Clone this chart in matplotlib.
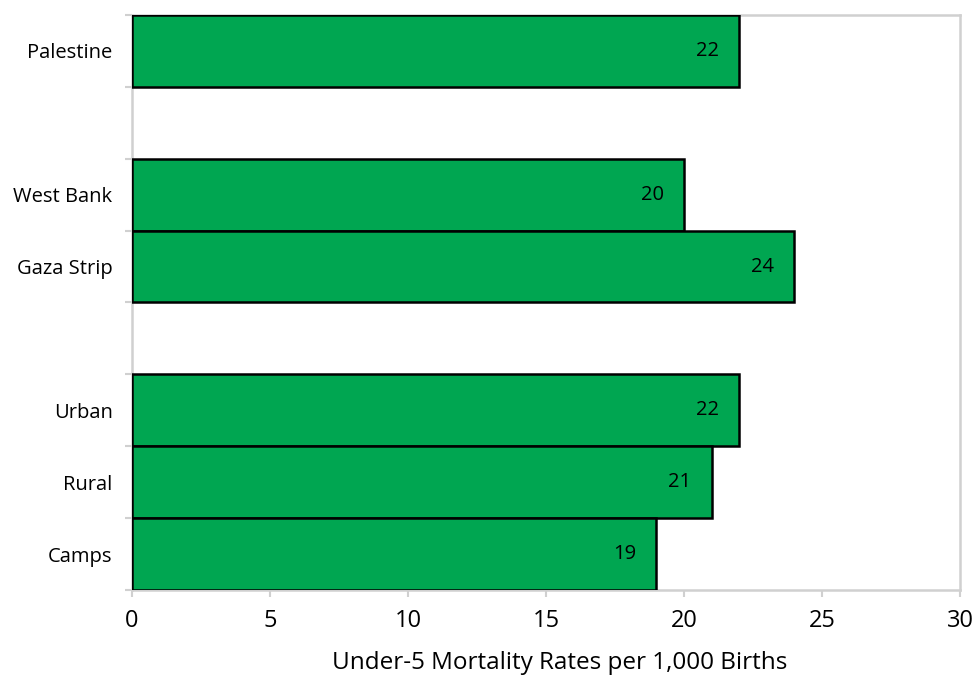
import numpy as np
import matplotlib
matplotlib.use("Agg")
import matplotlib.pyplot as plt

# slots from top to bottom, '' = empty spacer slot
categories = ["Palestine", "", "West Bank", "Gaza Strip", "", "Urban", "Rural", "Camps"]
values = [22, None, 20, 24, None, 22, 21, 19]
xticks = [0, 5, 10, 15, 20, 25, 30]

plt.rcParams['font.family'] = ['Open Sans', 'DejaVu Sans']

fig = plt.figure(figsize=(9.76, 6.75), dpi=100)
ax = fig.add_axes([0.1352, 0.126, 0.8484, 0.8518])

green = '#00A651'
grey = '#D0D0D0'

for i, (cat, v) in enumerate(zip(categories, values)):
    if v is None:
        continue
    ax.barh(i + 0.5, v, height=1.0, color=green, edgecolor='black', linewidth=1.8, zorder=3)
    ax.annotate(str(v), xy=(v, i + 0.5), xytext=(-20, 0), textcoords='offset pixels',
                ha='right', va='center', fontsize=14.5, color='black', zorder=4)

ax.set_xlim(0, 30)
ax.set_ylim(len(categories), 0)

ax.set_xticks(xticks)
ax.set_xticklabels([str(t) for t in xticks], fontsize=17)
ax.set_yticks(np.arange(len(categories) + 1))
ax.set_yticklabels([])
ax.set_yticks(np.arange(len(categories)) + 0.5, minor=True)
ax.set_yticklabels(categories, minor=True, fontsize=14.5)
ax.tick_params(axis='y', which='minor', length=0, pad=14)
ax.tick_params(axis='y', which='major', length=5, width=1.5, color=grey, direction='out')
ax.tick_params(axis='x', which='major', length=5, width=1.5, color=grey, direction='out', pad=9)

for s in ax.spines.values():
    s.set_color(grey)
    s.set_linewidth(1.8)

ax.set_xlabel("Under-5 Mortality Rates per 1,000 Births", fontsize=17.5, labelpad=13)
ax.xaxis.label.set_x(0.517)  # title sits a bit right of centre in the original

fig.savefig("out.png", dpi=100)
